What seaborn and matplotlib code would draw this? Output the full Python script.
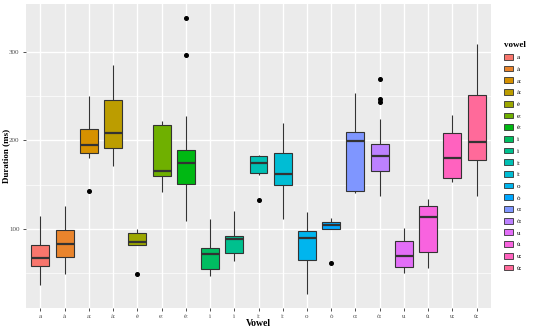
import numpy as np
import pandas as pd
import matplotlib
matplotlib.use("Agg")
import matplotlib.pyplot as plt
import seaborn as sns
from matplotlib.patches import Patch

# Box statistics (ms)
vowels = ["a", "à", "a:", "à:", "è", "e:", "è:", "i", "ì", "i:", "ì:",
          "o", "ò", "o:", "ò:", "u", "ù", "u:", "ù:"]
whis_lo = [36, 49, 180, 171, 82, 142, 109, 47, 64, 161, 111,
           26, 100, 140, 137.5, 50, 56, 153, 137.5]
q1 = [58, 68.5, 186, 192, 82, 160, 151, 55, 73, 163, 150,
      65, 100, 143, 165, 57, 74, 157, 178]
median = [67, 83, 195, 209, 85, 166, 174, 71, 89, 174, 162,
          89.5, 104, 199, 182.5, 69, 113.5, 180, 198]
q3 = [82, 99, 213, 246, 95, 218, 189, 78, 92, 182, 186,
      97, 107.5, 210, 196, 86, 126, 208, 251]
whis_hi = [114, 126, 250, 285, 100, 222, 228, 111, 120, 184, 220,
           119, 112, 254, 224, 101, 134, 229, 309]
outliers = {"a:": [143], "è": [49], "è:": [297, 339], "i:": [133],
            "ò": [61], "ò:": [243.5, 247.5, 270]}


def hue_pal(n, l=65, c=100):
    # ggplot2 default discrete palette (HCL -> sRGB)
    hues = np.linspace(15, 375, n + 1)[:n]
    cols = []
    for h in hues:
        u = c * np.cos(np.radians(h))
        v = c * np.sin(np.radians(h))
        Y = ((l + 16) / 116) ** 3
        un, vn = 0.1978398, 0.4683363
        up = u / (13 * l) + un
        vp = v / (13 * l) + vn
        X = Y * 9 * up / (4 * vp)
        Z = Y * (12 - 3 * up - 20 * vp) / (4 * vp)
        M = np.array([[3.2404542, -1.5371385, -0.4985314],
                      [-0.9692660, 1.8760108, 0.0415560],
                      [0.0556434, -0.2040259, 1.0572252]])
        rgb = M @ np.array([X, Y, Z])
        rgb = np.where(rgb <= 0.0031308, 12.92 * rgb,
                       1.055 * np.abs(rgb) ** (1 / 2.4) - 0.055)
        cols.append(tuple(np.clip(rgb, 0, 1)))
    return cols


# Build a small long table whose quartiles reproduce the box statistics
rows = []
for i, v in enumerate(vowels):
    vals = [whis_lo[i]] + [q1[i]] * 5 + [median[i]] * 5 + [q3[i]] * 5 + [whis_hi[i]]
    vals += outliers.get(v, [])
    for x in vals:
        rows.append((v, x))
df = pd.DataFrame(rows, columns=["vowel", "duration"])

colors = hue_pal(len(vowels))
palette = dict(zip(vowels, colors))

plt.rcParams["font.family"] = ["Liberation Serif", "DejaVu Serif"]

fig = plt.figure(figsize=(5.5, 3.29), dpi=100)
ax = fig.add_axes([0.047, 0.064, 0.846, 0.924])
ax.set_facecolor("#EBEBEB")

sns.boxplot(
    data=df,
    x="vowel",
    y="duration",
    hue="vowel",
    order=vowels,
    hue_order=vowels,
    palette=palette,
    saturation=1,
    width=0.74,
    linecolor="#333333",
    linewidth=0.8,
    showcaps=False,
    whis=1.5,
    legend=False,
    medianprops={"linewidth": 1.6, "color": "#333333"},
    flierprops={"marker": "o", "markersize": 2.6,
                "markerfacecolor": "black", "markeredgecolor": "black"},
    ax=ax
)

ax.set_xlim(-0.6, len(vowels) - 0.4)
ax.set_ylim(10.4, 354.6)
ax.set_yticks([100, 200, 300])
ax.set_yticks([50, 150, 250], minor=True)
ax.grid(True, which="major", color="white", linewidth=1.0)
ax.grid(True, which="minor", axis="y", color="white", linewidth=0.5)
ax.set_axisbelow(True)
for s in ax.spines.values():
    s.set_visible(False)

ax.tick_params(axis="both", which="major", length=2.5, width=0.6,
               color="#333333", labelsize=5, labelcolor="#4D4D4D", pad=2)
ax.tick_params(axis="y", which="minor", length=0)

ax.set_xlabel("Vowel", fontsize=7, fontweight="bold", va="center")
ax.set_ylabel("Duration (ms)", fontsize=6.5, fontweight="bold", va="center")
ax.xaxis.set_label_coords(0.5, -0.052)
ax.yaxis.set_label_coords(-0.042, 0.5)

handles = [Patch(facecolor=palette[v], edgecolor="#333333", linewidth=0.6)
           for v in vowels]
leg = fig.legend(
    handles, vowels,
    title="vowel",
    loc="upper left",
    bbox_to_anchor=(0.912, 0.885),
    frameon=False,
    fontsize=5,
    title_fontproperties={"weight": "bold", "size": 6.5},
    handlelength=1.3,
    handleheight=0.9,
    labelspacing=0.78,
    handletextpad=0.5,
    borderaxespad=0
)
leg._legend_box.align = "left"

fig.savefig("out.png", dpi=100)
plt.close(fig)
